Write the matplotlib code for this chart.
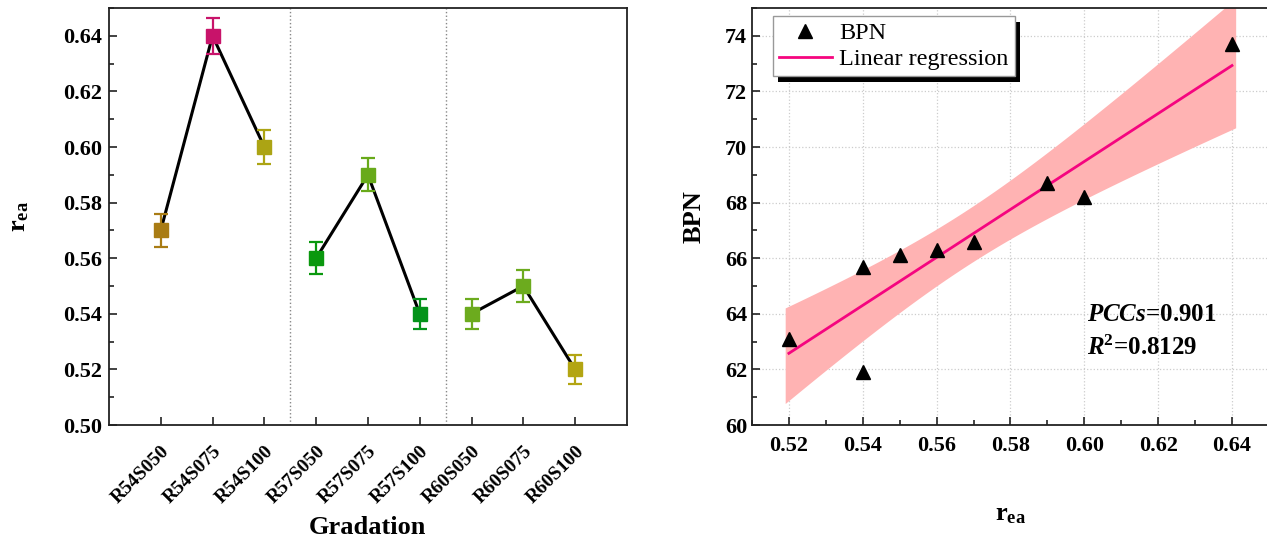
import numpy as np
import matplotlib
matplotlib.use('Agg')
import matplotlib.pyplot as plt
import matplotlib.patheffects as pe
from matplotlib.ticker import MultipleLocator

plt.rcParams['font.family'] = ['Liberation Serif', 'DejaVu Serif']
plt.rcParams['mathtext.fontset'] = 'custom'
plt.rcParams['mathtext.rm'] = 'Liberation Serif'
plt.rcParams['mathtext.it'] = 'Liberation Serif:italic'
plt.rcParams['mathtext.bf'] = 'Liberation Serif:bold'
plt.rcParams['mathtext.bfit'] = 'Liberation Serif:italic:bold'

# Left panel data
gradations = ['R54S050', 'R54S075', 'R54S100',
              'R57S050', 'R57S075', 'R57S100',
              'R60S050', 'R60S075', 'R60S100']
r_ea = [0.57, 0.64, 0.60, 0.56, 0.59, 0.54, 0.54, 0.55, 0.52]
r_ea_err = [0.0058, 0.0064, 0.006, 0.0058, 0.006, 0.0055, 0.0055, 0.0058, 0.0052]
point_colors = ['#A97C14', '#C8136A', '#ACA414', '#0A980E', '#68AA1A',
                '#04931A', '#6CAB1E', '#6CAB1E', '#B3A512']
group_size = 3

# Right panel data
bpn_x = [0.52, 0.54, 0.54, 0.55, 0.56, 0.57, 0.59, 0.60, 0.64]
bpn_y = [63.1, 65.7, 61.9, 66.1, 66.3, 66.6, 68.7, 68.2, 73.7]
pccs_text = r'$\mathbfit{PCCs}$=0.901'
r2_text = r'$\mathbfit{R}^{\mathbf{2}}$=0.8129'

fig = plt.figure(figsize=(12.67, 5.41), dpi=100)
ax1 = fig.add_axes([0.086, 0.2144, 0.4088, 0.7708])
ax2 = fig.add_axes([0.5935, 0.2144, 0.408, 0.7708])

# ---- left: r_ea by gradation ----
xpos = np.arange(1, len(gradations) + 1)
for g in range(0, len(gradations), group_size):
    ax1.plot(xpos[g:g + group_size], r_ea[g:g + group_size], color='black', lw=2.2, zorder=2)
for i in range(len(gradations)):
    ax1.errorbar(xpos[i], r_ea[i], yerr=r_ea_err[i], fmt='s', color=point_colors[i],
                 ms=10, capsize=5, elinewidth=1.6, capthick=1.6, zorder=3)
for sep in [3.5, 6.5]:
    ax1.axvline(sep, color='#888888', ls=':', lw=1)
ax1.set_xlim(0, 10)
ax1.set_ylim(0.50, 0.65)
ax1.set_xticks(xpos)
ax1.set_xticklabels(gradations, rotation=45, ha='right', rotation_mode='anchor',
                    fontsize=14, fontweight='bold')
ax1.yaxis.set_major_locator(MultipleLocator(0.02))
ax1.yaxis.set_minor_locator(MultipleLocator(0.01))
ax1.yaxis.set_major_formatter(matplotlib.ticker.FormatStrFormatter('%.2f'))
ax1.set_xlabel('Gradation', fontsize=19, fontweight='bold', labelpad=6)
ax1.set_ylabel(r'r$_{\mathbf{ea}}$', fontsize=19, fontweight='bold', labelpad=23)

# ---- right: BPN vs r_ea ----
x = np.array(bpn_x)
y = np.array(bpn_y)
n = len(x)
slope, intercept = np.polyfit(x, y, 1)
resid = y - (slope * x + intercept)
s = np.sqrt(np.sum(resid ** 2) / (n - 2))
t95 = 2.365
xs = np.linspace(x.min() - 0.001, x.max() + 0.001, 200)
ys = slope * xs + intercept
half = t95 * s * np.sqrt(1 / n + (xs - x.mean()) ** 2 / np.sum((x - x.mean()) ** 2))
ax2.fill_between(xs, ys - half, ys + half, color='#FFB3B3', lw=0, zorder=1)
xl = np.linspace(x.min(), x.max(), 2)
ax2.plot(xl, slope * xl + intercept, color='#F5057F', lw=2, zorder=2, label='Linear regression')
ax2.plot(x, y, '^', color='black', ms=10, zorder=3, label='BPN', ls='none')
ax2.set_xlim(0.51, 0.65)
ax2.set_ylim(60, 75)
ax2.xaxis.set_major_locator(MultipleLocator(0.02))
ax2.xaxis.set_minor_locator(MultipleLocator(0.01))
ax2.yaxis.set_major_locator(MultipleLocator(2))
ax2.yaxis.set_minor_locator(MultipleLocator(1))
ax2.xaxis.set_major_formatter(matplotlib.ticker.FormatStrFormatter('%.2f'))
ax2.grid(True, which='major', color='#CCCCCC', ls=':', lw=0.9)
ax2.set_axisbelow(True)
ax2.set_xlabel(r'r$_{\mathbf{ea}}$', fontsize=19, fontweight='bold', labelpad=34)
ax2.set_ylabel('BPN', fontsize=19, fontweight='bold', labelpad=14)
ax2.text(0.648, 0.266, pccs_text, transform=ax2.transAxes, fontsize=18, fontweight='bold', va='center')
ax2.text(0.648, 0.185, r2_text, transform=ax2.transAxes, fontsize=18, fontweight='bold', va='center')

handles, labels = ax2.get_legend_handles_labels()
leg = ax2.legend(handles[::-1], labels[::-1], loc='upper left', bbox_to_anchor=(0.04, 0.98),
                 fontsize=17.5, frameon=True, fancybox=False, handlelength=2.2,
                 borderpad=0.25, labelspacing=0.15, handletextpad=0.3, borderaxespad=0)
leg.get_frame().set_edgecolor('#999999')
leg.get_frame().set_linewidth(1)
leg.get_frame().set_alpha(1)
leg.legendPatch.set_path_effects([pe.SimplePatchShadow(offset=(4, -4), shadow_rgbFace='black', alpha=1),
                                  pe.Normal()])

for ax in (ax1, ax2):
    for sp in ax.spines.values():
        sp.set_linewidth(1.3)
        sp.set_color('#222222')
    ax.tick_params(which='both', direction='in', width=1.2, colors='#222222', labelcolor='black')
    ax.tick_params(which='major', length=6)
    ax.tick_params(which='minor', length=3.5)
    for lab in ax.get_yticklabels():
        lab.set_fontweight('bold')
        lab.set_fontsize(16)
ax1.tick_params(axis='x', which='minor', bottom=False)
for lab in ax2.get_xticklabels():
    lab.set_fontweight('bold')
    lab.set_fontsize(16)
ax1.tick_params(axis='y', pad=5)
ax1.tick_params(axis='x', pad=13)
ax2.tick_params(axis='x', pad=8)

fig.savefig('out.png', dpi=100)
